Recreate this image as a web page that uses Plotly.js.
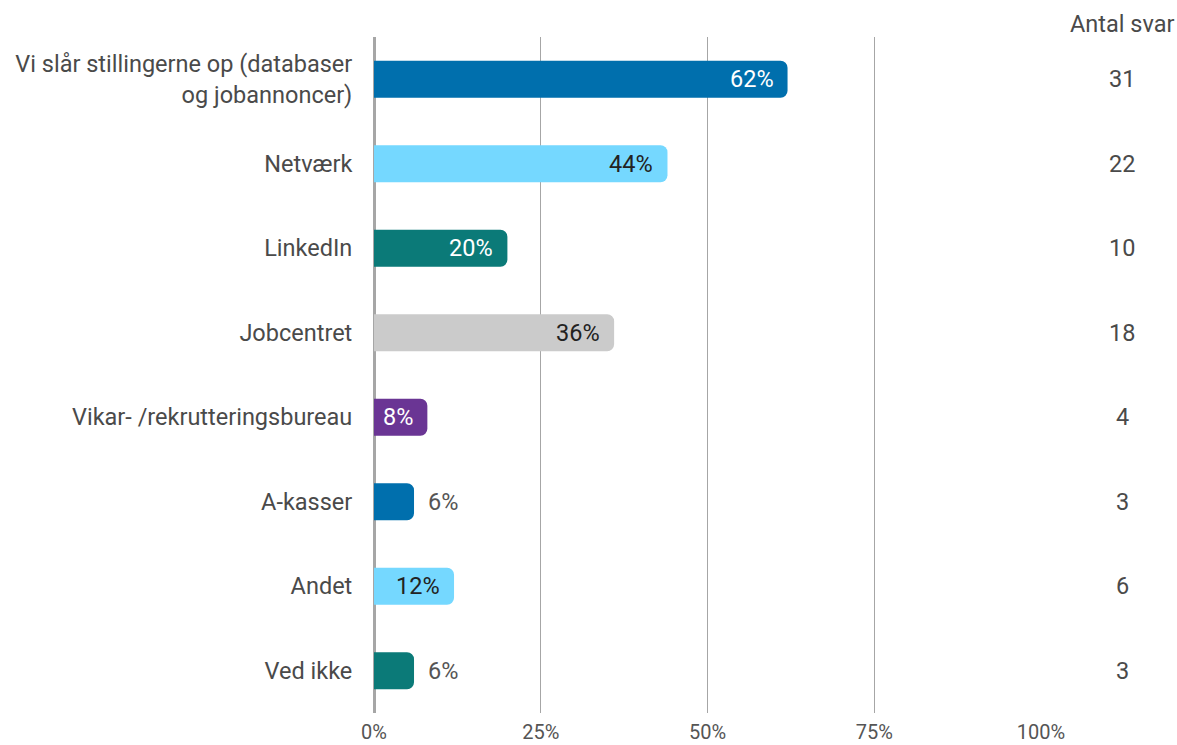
<!DOCTYPE html>
<html>
<head>
<meta charset="utf-8">
<script src="https://cdn.plot.ly/plotly-3.0.1.min.js"></script>
<style>html,body{margin:0;padding:0;background:#fff;}#chart{width:1177px;height:745px;}</style>
</head>
<body>
<div id="chart"></div>
<script>
const categories = [
  "Vi slår stillingerne op (databaser<br>og jobannoncer)",
  "Netværk",
  "LinkedIn",
  "Jobcentret",
  "Vikar- /rekrutteringsbureau",
  "A-kasser",
  "Andet",
  "Ved ikke"
];
const percents = [62, 44, 20, 36, 8, 6, 12, 6];
const counts = [31, 22, 10, 18, 4, 3, 6, 3];
const barColors = ["#006FAD", "#75D8FF", "#0B7A78", "#CBCBCB", "#6A3594", "#006FAD", "#75D8FF", "#0B7A78"];
const labelColors = ["#ffffff", "#222222", "#ffffff", "#222222", "#ffffff", "#555555", "#222222", "#555555"];
const labelInside = [true, true, true, true, true, false, true, false];
const countHeader = "Antal svar";
const xTicks = [0, 25, 50, 75, 100];
const xTickText = ["0%", "25%", "50%", "75%", "100%"];

const FONT = "Roboto, 'Noto Sans', sans-serif";
const FS = 23.5;
const TXT = "#4a4a4a";

const trace = {
  type: "bar",
  orientation: "h",
  x: percents,
  y: categories,
  marker: { color: barColors, cornerradius: 7, line: { width: 0 } },
  hoverinfo: "none"
};

const annotations = [];
categories.forEach((c, i) => {
  annotations.push({
    x: percents[i], y: c, xref: "x", yref: "y",
    text: percents[i] + "%",
    showarrow: false,
    xanchor: labelInside[i] ? "right" : "left",
    xshift: labelInside[i] ? -12 : 12,
    font: { family: FONT, size: FS, color: labelColors[i] }
  });
  annotations.push({
    x: 1.1215, y: c, xref: "paper", yref: "y",
    text: String(counts[i]),
    showarrow: false,
    xanchor: "center",
    font: { family: FONT, size: FS, color: TXT }
  });
});
annotations.push({
  x: 1.1215, y: 1, xref: "paper", yref: "paper",
  yanchor: "bottom", yshift: -3,
  text: countHeader, showarrow: false, xanchor: "center",
  font: { family: FONT, size: FS, color: TXT }
});

const layout = {
  width: 1177, height: 745,
  margin: { l: 374, r: 136, t: 37, b: 32, pad: 0 },
  paper_bgcolor: "#ffffff", plot_bgcolor: "#ffffff",
  bargap: 0.56,
  showlegend: false,
  font: { family: FONT, size: FS, color: TXT },
  xaxis: {
    range: [0, 100],
    tickvals: xTicks, ticktext: xTickText,
    showgrid: true, gridcolor: "#A6A6A6", gridwidth: 1,
    zeroline: true, zerolinecolor: "#A6A6A6", zerolinewidth: 3,
    showline: false, ticks: "outside", ticklen: 1, tickcolor: "rgba(0,0,0,0)",
    tickfont: { family: FONT, size: 20, color: "#555555" },
    fixedrange: true
  },
  yaxis: {
    autorange: "reversed",
    showgrid: false, zeroline: false, showline: false,
    ticks: "outside", ticklen: 16, tickcolor: "rgba(0,0,0,0)",
    tickfont: { family: FONT, size: FS, color: TXT },
    fixedrange: true
  },
  annotations: annotations
};

Plotly.newPlot("chart", [trace], layout, { displayModeBar: false, staticPlot: true });
</script>
</body>
</html>
